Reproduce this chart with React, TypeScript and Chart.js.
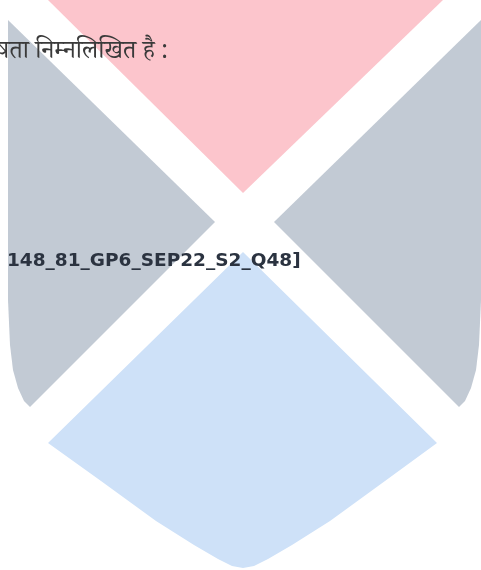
import React, { useEffect, useRef } from "react";
import { Chart, registerables } from "chart.js";

Chart.register(...registerables);

// Watermark shield shapes, vertices (x, y in pixels)
const pinkX = [48, 443, 243];
const pinkY = [0, 0, 193];

const greyLeftX = [8, 215, 30, 24, 18, 13, 10, 8];
const greyLeftY = [20, 222, 407, 401, 388, 370, 345, 300];

const greyRightX = [481, 274, 459, 465, 471, 476, 479, 481];
const greyRightY = [20, 222, 407, 401, 388, 370, 345, 300];

const blueX = [243, 437, 385, 330, 292, 268, 254, 243, 232, 218, 194, 156, 101, 48];
const blueY = [252, 443, 481, 521, 545, 559, 566, 568, 566, 559, 545, 521, 481, 443];

const hindiText = "षता निम्नलिखित है :";
const codeText = "148_81_GP6_SEP22_S2_Q48]";

const toPoints = (xs: number[], ys: number[]) => {
  const pts = xs.map((x, i) => ({ x, y: ys[i] }));
  pts.push({ x: xs[0], y: ys[0] });
  return pts;
};

const shape = (label: string, xs: number[], ys: number[], color: string) => ({
  type: "line" as const,
  label,
  data: toPoints(xs, ys),
  backgroundColor: color,
  borderColor: color,
  borderWidth: 0,
  pointRadius: 0,
  fill: "shape" as any,
  tension: 0,
  showLine: true,
});

export default function App() {
  const ref = useRef<HTMLCanvasElement | null>(null);
  useEffect(() => {
    if (!ref.current) return;
    const chart = new Chart(ref.current, {
      type: "scatter",
      data: {
        datasets: [
          shape("pink", pinkX, pinkY, "#fcc5cc"),
          shape("greyLeft", greyLeftX, greyLeftY, "#c2cad4"),
          shape("greyRight", greyRightX, greyRightY, "#c2cad4"),
          shape("blue", blueX, blueY, "#cee1f8"),
        ] as any,
      },
      options: {
        animation: false,
        responsive: false,
        layout: { padding: 0 },
        plugins: { legend: { display: false }, tooltip: { enabled: false }, title: { display: false } },
        scales: {
          x: { type: "linear", min: 0, max: 481, display: false },
          y: { type: "linear", min: 0, max: 570, reverse: true, display: false },
        },
      },
    });
    return () => chart.destroy();
  }, []);

  return (
    <div style={{ position: "fixed", left: 0, top: 0, width: 481, height: 570, background: "#fff", overflow: "hidden" }}>
      <canvas ref={ref} width={481} height={570} style={{ position: "absolute", left: 0, top: 0, width: 481, height: 570 }} />
      <div
        style={{
          position: "absolute",
          left: -4,
          top: 41,
          fontFamily: '"Noto Serif Devanagari", "Noto Sans Devanagari", "Lohit Devanagari", serif',
          fontSize: 25,
          lineHeight: "28px",
          color: "#3a3a3a",
          whiteSpace: "nowrap",
        }}
      >
        {hindiText}
      </div>
      <div
        style={{
          position: "absolute",
          left: 7,
          top: 251,
          fontFamily: '"DejaVu Sans", sans-serif',
          fontWeight: "bold",
          fontSize: 18.5,
          lineHeight: 1,
          color: "#2b3340",
          whiteSpace: "nowrap",
        }}
      >
        {codeText}
      </div>
    </div>
  );
}
